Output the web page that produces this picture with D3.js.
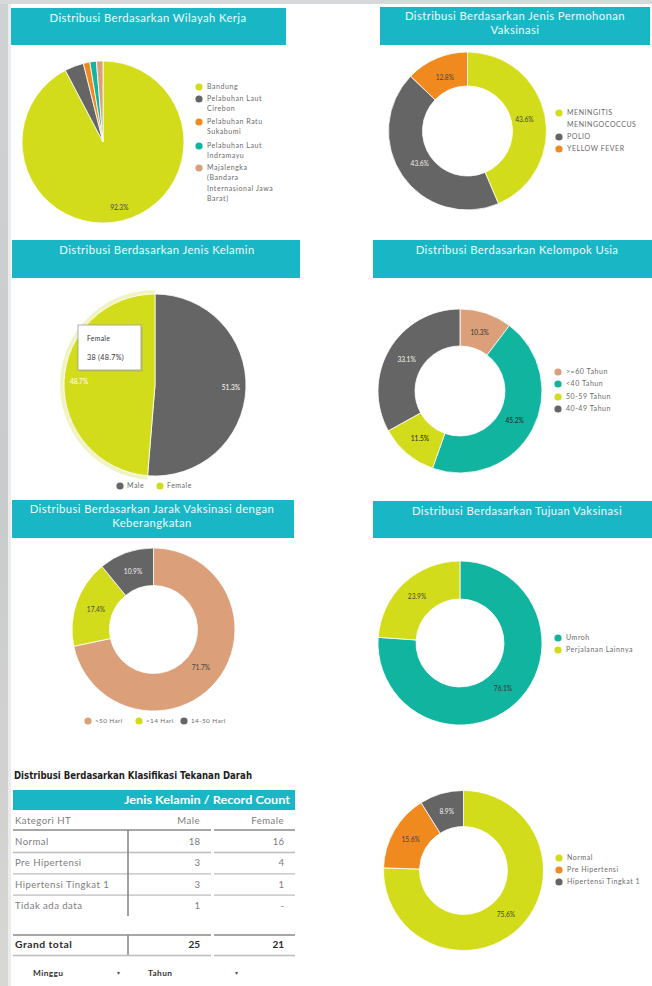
<!DOCTYPE html>
<html><head><meta charset="utf-8">
<script src="https://cdn.jsdelivr.net/npm/d3@7"></script>
<style>
body{margin:0;background:#fff;}
svg{display:block;font-family:Lato,"Noto Sans",sans-serif;}
</style></head>
<body>
<script>
// ---------- DATA ----------
const wilayahLabels = ["Bandung","Pelabuhan Laut Cirebon","Pelabuhan Ratu Sukabumi","Pelabuhan Laut Indramayu","Majalengka (Bandara Internasional Jawa Barat)"];
const wilayahValues = [92.3, 3.8, 1.3, 1.3, 1.3];

const permohonanLabels = ["MENINGITIS MENINGOCOCCUS","POLIO","YELLOW FEVER"];
const permohonanValues = [43.6, 43.6, 12.8];

const kelaminLabels = ["Male","Female"];
const kelaminValues = [51.3, 48.7];
const kelaminCounts = [40, 38];

const usiaLabels = [">=60 Tahun","<40 Tahun","50-59 Tahun","40-49 Tahun"];
const usiaValues = [10.3, 45.2, 11.5, 33.1];

const jarakLabels = [">50 Hari","<14 Hari","14-50 Hari"];
const jarakValues = [71.7, 17.4, 10.9];

const tujuanLabels = ["Umroh","Perjalanan Lainnya"];
const tujuanValues = [76.1, 23.9];

const htLabels = ["Normal","Pre Hipertensi","Hipertensi Tingkat 1"];
const htValues = [75.6, 15.6, 8.9];

const tableCategories = ["Normal","Pre Hipertensi","Hipertensi Tingkat 1","Tidak ada data"];
const tableMale = ["18","3","3","1"];
const tableFemale = ["16","4","1","-"];
const totalMale = "25";
const totalFemale = "21";

// ---------- STYLE ----------
const LIME="#d3dc1b", GREY="#666565", ORANGE="#f08a1f", TEAL="#10b49f", TAN="#dba079", HEAD="#19b7c6";
const fmt = v => d3.format(".1f")(v) + "%";

const svg = d3.select("body").append("svg").attr("width",652).attr("height",986);

// background strips (screenshot edges)
const g0 = svg.append("defs").append("linearGradient").attr("id","bg").attr("x1",0).attr("x2",0).attr("y1",0).attr("y2",1);
g0.append("stop").attr("offset","0%").attr("stop-color","#cfd1d2");
g0.append("stop").attr("offset","50%").attr("stop-color","#c9cbcc");
g0.append("stop").attr("offset","100%").attr("stop-color","#d7d7d4");
svg.append("rect").attr("x",0).attr("y",0).attr("width",8).attr("height",986).attr("fill","url(#bg)");
svg.append("rect").attr("x",8).attr("y",0).attr("width",3).attr("height",986).attr("fill","#ececec");
svg.append("rect").attr("x",0).attr("y",0).attr("width",652).attr("height",4).attr("fill","#d6d8d9");

function header(x,y,w,h,lines,cx,y0){
  svg.append("rect").attr("x",x).attr("y",y).attr("width",w).attr("height",h).attr("fill",HEAD);
  lines.forEach((t,i)=>{
    svg.append("text").attr("x",cx).attr("y",y0+i*14).attr("text-anchor","middle")
      .attr("fill","#eefafb").attr("font-size",11.3).attr("letter-spacing",0.4).text(t);
  });
}

function pieChart(o){
  const pie = d3.pie().sort(null).value(d=>d)(o.values);
  const arc = d3.arc().innerRadius(o.inner).outerRadius(o.r);
  const lab = d3.arc().innerRadius(o.labelR).outerRadius(o.labelR);
  const g = svg.append("g").attr("transform",`translate(${o.cx},${o.cy})`);
  g.selectAll("path").data(pie).join("path").attr("d",arc)
    .attr("fill",(d,i)=>o.colors[i]).attr("stroke","#fff").attr("stroke-width",0.8);
  g.selectAll("text").data(pie).join("text")
    .attr("transform",d=>`translate(${lab.centroid(d)})`)
    .attr("text-anchor","middle").attr("dy","0.35em").attr("font-size",6.6)
    .attr("fill",(d,i)=>o.labelColors[i])
    .text((d,i)=> (o.showLabel? o.showLabel[i] : true) ? fmt(d.data) : "");
  return {g,pie};
}

function legendV(x,items,colors,ys){
  items.forEach((lines,i)=>{
    svg.append("circle").attr("cx",x).attr("cy",ys[i][0]).attr("r",3.6).attr("fill",colors[i]);
    lines.forEach((t,j)=>{
      svg.append("text").attr("x",x+8).attr("y",ys[i][j]).attr("dy","0.35em")
        .attr("font-size",7).attr("letter-spacing",0.55).attr("fill","#6a6a6a").text(t);
    });
  });
}

// ---------- PANEL 1 : Wilayah Kerja ----------
header(11,8,275,37,["Distribusi Berdasarkan Wilayah Kerja"],148,22);
pieChart({cx:103,cy:142,r:81,inner:0,labelR:68,values:wilayahValues,
  colors:[LIME,GREY,ORANGE,TEAL,TAN],labelColors:["#444","#fff","#fff","#fff","#fff"],
  showLabel:[true,false,false,false,false]});
legendV(199,[["Bandung"],["Pelabuhan Laut","Cirebon"],["Pelabuhan Ratu","Sukabumi"],["Pelabuhan Laut","Indramayu"],["Majalengka","(Bandara","Internasional Jawa","Barat)"]],
  [LIME,GREY,ORANGE,TEAL,TAN],[[87],[99,109],[122,132],[146,156],[168,178,189,199]]);

// ---------- PANEL 2 : Jenis Permohonan ----------
header(380,7,270,38,["Distribusi Berdasarkan Jenis Permohonan","Vaksinasi"],515,20);
pieChart({cx:467.5,cy:131,r:79,inner:45,labelR:58,values:permohonanValues,
  colors:[LIME,GREY,ORANGE],labelColors:["#444","#eee","#444"]});
legendV(559,[["MENINGITIS","MENINGOCOCCUS"],["POLIO"],["YELLOW FEVER"]],
  [LIME,GREY,ORANGE],[[113,125],[137],[149]]);

// ---------- PANEL 3 : Jenis Kelamin ----------
header(12,240,288,38,["Distribusi Berdasarkan Jenis Kelamin"],157,254);
{
  const cx=155, cy=385, r=91;
  const pie = d3.pie().sort(null).value(d=>d)(kelaminValues);
  // hover halo on Female slice
  svg.append("path").attr("transform",`translate(${cx},${cy})`)
    .attr("d",d3.arc().innerRadius(r-1).outerRadius(r+4)(pie[1]))
    .attr("fill","#f0f3c6");
  pieChart({cx,cy,r,inner:0,labelR:76,values:kelaminValues,
    colors:[GREY,LIME],labelColors:["#fff","#fff"]});
  // tooltip
  const tg = svg.append("g");
  tg.append("rect").attr("x",80).attr("y",327).attr("width",63).attr("height",45).attr("fill","#999").attr("opacity",0.25);
  tg.append("rect").attr("x",78).attr("y",325).attr("width",63).attr("height",45).attr("fill","#fff").attr("stroke","#9a9a9a").attr("stroke-width",0.8);
  tg.append("text").attr("x",87).attr("y",341).attr("font-size",6.8).attr("letter-spacing",0.3).attr("fill","#333").text(kelaminLabels[1]);
  tg.append("text").attr("x",87).attr("y",360).attr("font-size",7.2).attr("letter-spacing",0.3).attr("fill","#333")
    .text(`${kelaminCounts[1]} (${fmt(kelaminValues[1])})`);
  // legend
  [[120,GREY,kelaminLabels[0]],[160,LIME,kelaminLabels[1]]].forEach(([x,c,t])=>{
    svg.append("circle").attr("cx",x).attr("cy",486).attr("r",3.6).attr("fill",c);
    svg.append("text").attr("x",x+7).attr("y",486).attr("dy","0.35em").attr("font-size",7).attr("letter-spacing",0.5).attr("fill","#6a6a6a").text(t);
  });
}

// ---------- PANEL 4 : Kelompok Usia ----------
header(373,240,279,38,["Distribusi Berdasarkan Kelompok Usia"],517,254);
pieChart({cx:460,cy:391,r:82,inner:45,labelR:62,values:usiaValues,
  colors:[TAN,TEAL,LIME,GREY],labelColors:["#333","#222","#222","#f4f4f4"]});
legendV(558,[[usiaLabels[0]],[usiaLabels[1]],[usiaLabels[2]],[usiaLabels[3]]],
  [TAN,TEAL,LIME,GREY],[[372],[384],[397],[409]]);

// ---------- PANEL 5 : Jarak ----------
header(12,500,282,38,["Distribusi Berdasarkan Jarak Vaksinasi dengan","Keberangkatan"],152,513);
pieChart({cx:153.5,cy:629.5,r:81.5,inner:44,labelR:61,values:jarakValues,
  colors:[TAN,LIME,GREY],labelColors:["#444","#444","#eee"]});
[[88,TAN,jarakLabels[0]],[139,LIME,jarakLabels[1]],[184,GREY,jarakLabels[2]]].forEach(([x,c,t])=>{
  svg.append("circle").attr("cx",x).attr("cy",721).attr("r",3.6).attr("fill",c);
  svg.append("text").attr("x",x+7).attr("y",721).attr("dy","0.35em").attr("font-size",6.4).attr("letter-spacing",0.4).attr("fill","#6a6a6a").text(t);
});

// ---------- PANEL 6 : Tujuan ----------
header(373,501,279,37,["Distribusi Berdasarkan Tujuan Vaksinasi"],517,515);
pieChart({cx:460,cy:643,r:82,inner:44,labelR:63,values:tujuanValues,
  colors:[TEAL,LIME],labelColors:["#333","#444"]});
legendV(558,[[tujuanLabels[0]],[tujuanLabels[1]]],[TEAL,LIME],[[638],[650]]);

// ---------- PANEL 7 : Table ----------
svg.append("text").attr("x",14).attr("y",779).attr("font-family","'Liberation Sans Narrow','DejaVu Sans Condensed',sans-serif")
  .attr("font-weight","bold").attr("font-size",10.5).attr("fill","#1e1e1e")
  .attr("textLength",238).attr("lengthAdjust","spacingAndGlyphs")
  .text("Distribusi Berdasarkan Klasifikasi Tekanan Darah");
svg.append("rect").attr("x",13).attr("y",790).attr("width",282).attr("height",20).attr("fill",HEAD);
svg.append("text").attr("x",124).attr("y",804).attr("font-weight","bold")
  .attr("font-size",11.5).attr("fill","#fff").attr("textLength",166).attr("lengthAdjust","spacingAndGlyphs")
  .text("Jenis Kelamin / Record Count");
const tcol = "#7d7d7d";
const tfs = 9.6, tls = 0.45;
svg.append("text").attr("x",15).attr("y",824).attr("font-size",tfs).attr("letter-spacing",tls).attr("fill",tcol).text("Kategori HT");
svg.append("text").attr("x",200).attr("y",824).attr("text-anchor","end").attr("font-size",tfs).attr("letter-spacing",tls).attr("fill",tcol).text("Male");
svg.append("text").attr("x",284).attr("y",824).attr("text-anchor","end").attr("font-size",tfs).attr("letter-spacing",tls).attr("fill",tcol).text("Female");
function hline(y,c,w){
  svg.append("line").attr("x1",13).attr("x2",211).attr("y1",y).attr("y2",y).attr("stroke",c).attr("stroke-width",w);
  svg.append("line").attr("x1",214).attr("x2",295).attr("y1",y).attr("y2",y).attr("stroke",c).attr("stroke-width",w);
}
hline(830,"#8a8a8a",1.6);
const rowY = d3.scalePoint().domain(tableCategories).range([843,907]);
tableCategories.forEach((c,i)=>{
  const y = rowY(c);
  svg.append("text").attr("x",15).attr("y",y+2).attr("font-size",tfs).attr("letter-spacing",tls).attr("fill",tcol).text(c);
  svg.append("text").attr("x",200).attr("y",y+2).attr("text-anchor","end").attr("font-size",tfs).attr("fill",tcol).text(tableMale[i]);
  svg.append("text").attr("x",284).attr("y",y+2).attr("text-anchor","end").attr("font-size",tfs).attr("fill",tcol).text(tableFemale[i]);
  if(i<3) hline(y+9.5,"#bdbdbd",1.3);
});
svg.append("line").attr("x1",128).attr("x2",128).attr("y1",830).attr("y2",916).attr("stroke","#8a8a8a").attr("stroke-width",1.6);
hline(935,"#8a8a8a",1.6);
svg.append("line").attr("x1",128).attr("x2",128).attr("y1",935).attr("y2",955).attr("stroke","#8a8a8a").attr("stroke-width",1.6);
hline(955.5,"#bdbdbd",1.3);
svg.append("text").attr("x",15).attr("y",948).attr("font-size",10.3).attr("letter-spacing",0.5).attr("font-weight","bold").attr("fill","#2a2a2a").text("Grand total");
svg.append("text").attr("x",200).attr("y",948).attr("text-anchor","end").attr("font-size",10).attr("font-weight","bold").attr("fill","#2a2a2a").text(totalMale);
svg.append("text").attr("x",284).attr("y",948).attr("text-anchor","end").attr("font-size",10).attr("font-weight","bold").attr("fill","#2a2a2a").text(totalFemale);
// filter controls
[[33,"Minggu",117],[148,"Tahun",235]].forEach(([x,t,ax])=>{
  svg.append("text").attr("x",x).attr("y",976).attr("font-size",8.3).attr("letter-spacing",0.4).attr("font-weight","bold").attr("fill","#333").text(t);
  svg.append("text").attr("x",ax).attr("y",975).attr("font-size",6).attr("fill","#555").text("▾");
});

// ---------- PANEL 8 : Tekanan Darah donut ----------
pieChart({cx:463.5,cy:870.5,r:80,inner:44,labelR:61,values:htValues,
  colors:[LIME,ORANGE,GREY],labelColors:["#444","#444","#eee"]});
legendV(559,[[htLabels[0]],[htLabels[1]],[htLabels[2]]],[LIME,ORANGE,GREY],[[858],[870],[882]]);
</script>
</body></html>
